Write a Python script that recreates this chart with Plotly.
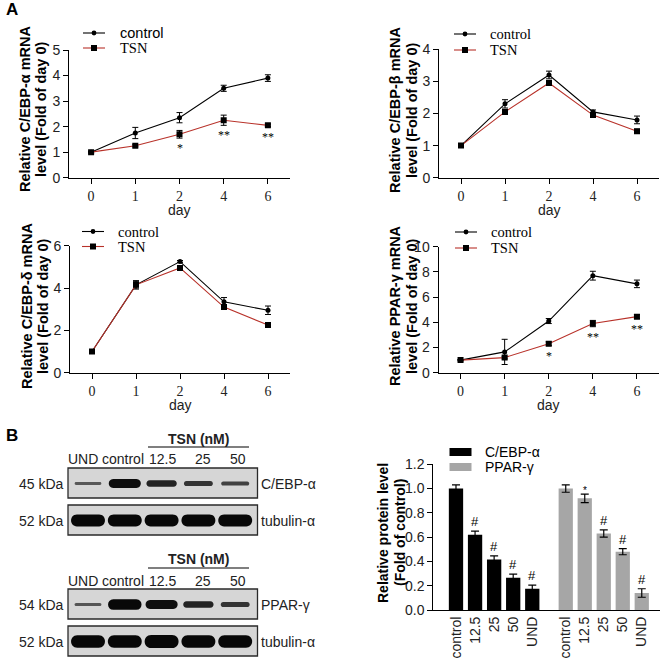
import plotly.graph_objects as go

# ---------------- data ----------------
days = ["0", "1", "2", "4", "6"]

cebpa_ctrl = [1.0, 1.75, 2.35, 3.5, 3.9]
cebpa_ctrl_err = [0.03, 0.22, 0.2, 0.12, 0.13]
cebpa_tsn = [1.0, 1.25, 1.7, 2.25, 2.05]
cebpa_tsn_err = [0.03, 0.04, 0.15, 0.2, 0.05]
cebpa_sig = ["", "", "*", "**", "**"]

cebpb_ctrl = [1.0, 2.3, 3.2, 2.05, 1.8]
cebpb_ctrl_err = [0.02, 0.13, 0.12, 0.06, 0.12]
cebpb_tsn = [1.0, 2.05, 2.95, 1.95, 1.45]
cebpb_tsn_err = [0.02, 0.06, 0.06, 0.05, 0.06]

cebpd_ctrl = [1.0, 4.15, 5.25, 3.35, 2.95]
cebpd_ctrl_err = [0.03, 0.2, 0.05, 0.2, 0.2]
cebpd_tsn = [1.0, 4.15, 4.95, 3.1, 2.25]
cebpd_tsn_err = [0.03, 0.15, 0.05, 0.1, 0.05]

pparg_ctrl = [1.0, 1.65, 4.1, 7.7, 7.05]
pparg_ctrl_err = [0.05, 1.0, 0.2, 0.35, 0.3]
pparg_tsn = [1.0, 1.2, 2.3, 3.9, 4.45]
pparg_tsn_err = [0.05, 0.1, 0.15, 0.25, 0.15]
pparg_sig = ["", "", "*", "**", "**"]

bar_lanes = ["control", "12.5", "25", "50", "UND"]
cebpa_protein = [1.0, 0.62, 0.415, 0.265, 0.175]
cebpa_protein_err = [0.03, 0.03, 0.03, 0.03, 0.03]
cebpa_protein_sig = ["", "#", "#", "#", "#"]
pparg_protein = [1.0, 0.92, 0.63, 0.48, 0.14]
pparg_protein_err = [0.03, 0.035, 0.03, 0.025, 0.035]
pparg_protein_sig = ["", "*", "#", "#", "#"]

blot_lanes = ["UND", "control", "12.5", "25", "50"]
blot_cebpa = [0.3, 0.9, 0.7, 0.55, 0.45]
blot_tub1 = [1.15, 1.15, 1.15, 1.15, 1.15]
blot_pparg = [0.32, 1.05, 0.9, 0.7, 0.55]
blot_tub2 = [1.2, 1.2, 1.25, 1.2, 1.2]

# ---------------- helpers ----------------
W = H = 660
SANS = "Liberation Sans"
SERIF = "Liberation Serif"
RED = "#b8322a"
TXT = "#222222"


def fx(p):
    return p / W


def fy(p):
    return 1 - p / H


fig = go.Figure()
shapes = []
annos = []


def ptext(x, y, text, size=14, family=SANS, bold=False, angle=0, xanchor="center",
          color=TXT):
    annos.append(dict(xref="paper", yref="paper", x=fx(x), y=fy(y), text=text,
                      textangle=angle, showarrow=False,
                      font=dict(family=family, size=size, color=color,
                                weight="bold" if bold else "normal"),
                      xanchor=xanchor, yanchor="middle"))


panels = [
    dict(ax="", ctrl=cebpa_ctrl, ce=cebpa_ctrl_err, tsn=cebpa_tsn, te=cebpa_tsn_err, sig=cebpa_sig,
         xd=(69, 290), yd=(177.7, 50), yr=5, dt=1,
         t1="Relative C/EBP-α mRNA", t2="level (Fold of day 0)", tx=(25, 41), ty=109,
         leg=(83, 105, 33, 48, 118), ctrl_font=SANS, day_y=210),
    dict(ax="2", ctrl=cebpb_ctrl, ce=cebpb_ctrl_err, tsn=cebpb_tsn, te=cebpb_tsn_err, sig=None,
         xd=(439, 659), yd=(177.7, 49.3), yr=4, dt=1,
         t1="Relative C/EBP-β mRNA", t2="level (Fold of day 0)", tx=(395, 412), ty=110,
         leg=(454, 476, 34, 50, 488), ctrl_font=SERIF, day_y=210),
    dict(ax="3", ctrl=cebpd_ctrl, ce=cebpd_ctrl_err, tsn=cebpd_tsn, te=cebpd_tsn_err, sig=None,
         xd=(70, 290), yd=(372.7, 245.7), yr=6, dt=2,
         t1="Relative C/EBP-δ mRNA", t2="level (Fold of day 0)", tx=(27, 43), ty=306,
         leg=(82, 104, 231.5, 246.5, 116), ctrl_font=SERIF, day_y=405),
    dict(ax="4", ctrl=pparg_ctrl, ce=pparg_ctrl_err, tsn=pparg_tsn, te=pparg_tsn_err, sig=pparg_sig,
         xd=(438.5, 659), yd=(372.7, 246.7), yr=10, dt=2,
         t1="Relative PPAR-γ mRNA", t2="level (Fold of day 0)", tx=(395, 412), ty=306,
         leg=(455, 477, 232, 248, 489), ctrl_font=SERIF, day_y=405),
]

layout_axes = {}
for p in panels:
    a = p["ax"]
    xa, ya = "x" + a, "y" + a
    fig.add_trace(go.Scatter(
        x=days, y=p["ctrl"], xaxis=xa, yaxis=ya, mode="lines+markers",
        line=dict(color="black", width=1.1),
        marker=dict(symbol="circle", size=5, color="black"),
        error_y=dict(type="data", array=p["ce"], color="black", thickness=1, width=3),
        showlegend=False))
    fig.add_trace(go.Scatter(
        x=days, y=p["tsn"], xaxis=xa, yaxis=ya, mode="lines+markers",
        line=dict(color=RED, width=1.1),
        marker=dict(symbol="square", size=6, color="black"),
        error_y=dict(type="data", array=p["te"], color="black", thickness=1, width=3),
        showlegend=False))
    layout_axes["xaxis" + a] = dict(
        domain=[fx(p["xd"][0]), fx(p["xd"][1])], anchor=ya, type="category",
        range=[-0.5, 4.5], showline=True, linecolor="black", linewidth=1,
        ticks="outside", ticklen=5, tickcolor="black", showgrid=False, zeroline=False,
        automargin=False, tickfont=dict(family=SERIF, size=14, color=TXT))
    layout_axes["yaxis" + a] = dict(
        domain=[fy(p["yd"][0]), fy(p["yd"][1])], anchor=xa,
        range=[0, p["yr"]], dtick=p["dt"], showline=True, linecolor="black", linewidth=1,
        ticks="outside", ticklen=5, tickcolor="black", showgrid=False, zeroline=False,
        automargin=False, tickfont=dict(family=SANS, size=14, color=TXT))
    # y title (two lines)
    ptext(p["tx"][0], p["ty"], p["t1"], size=14.5, bold=True, angle=-90, color="black")
    ptext(p["tx"][1], p["ty"], p["t2"], size=14.5, bold=True, angle=-90, color="black")
    # x title
    ptext((p["xd"][0] + p["xd"][1]) / 2, p["day_y"], "day", size=14)
    # significance marks (by category index)
    if p["sig"]:
        for i, (v, e, s) in enumerate(zip(p["tsn"], p["te"], p["sig"])):
            if s:
                annos.append(dict(xref=xa, yref=ya, x=i, y=v - e, text=s, showarrow=False,
                                  font=dict(family=SERIF, size=12, color="black"),
                                  xanchor="center", yanchor="top", yshift=-1))
    # legend (manual)
    lx0, lx1, yc, yt, tx = p["leg"]
    for yy, col, sym, name, fnt in [(yc, "black", "circle", "control", p["ctrl_font"]),
                                    (yt, RED, "square", "TSN", SERIF)]:
        shapes.append(dict(type="line", xref="paper", yref="paper", x0=fx(lx0), x1=fx(lx1),
                           y0=fy(yy), y1=fy(yy), line=dict(color=col, width=1.1)))
        cx = (lx0 + lx1) / 2
        r = 2.4 if sym == "circle" else 3
        shapes.append(dict(type="circle" if sym == "circle" else "rect", xref="paper", yref="paper",
                           x0=fx(cx - r), x1=fx(cx + r), y0=fy(yy + r), y1=fy(yy - r),
                           fillcolor="black", line=dict(width=0)))
        ptext(tx, yy, name, size=14.5, family=fnt, xanchor="left", color="black")

# ---------------- bar chart ----------------
fig.add_trace(go.Bar(x=bar_lanes, y=cebpa_protein, xaxis="x5", yaxis="y5", width=0.75,
                     marker=dict(color="black", line=dict(width=0)),
                     error_y=dict(type="data", array=cebpa_protein_err, color="black",
                                  thickness=1.2, width=4), showlegend=False))
fig.add_trace(go.Bar(x=bar_lanes, y=pparg_protein, xaxis="x6", yaxis="y5", width=0.75,
                     marker=dict(color="#a6a6a6", line=dict(width=0)),
                     error_y=dict(type="data", array=pparg_protein_err, color="black",
                                  thickness=1.2, width=4), showlegend=False))
bar_common = dict(type="category", showline=True, linecolor="black", linewidth=1,
                  ticks="", showgrid=False, zeroline=False, tickangle=-90, automargin=False,
                  tickfont=dict(family=SANS, size=14, color=TXT))
layout_axes["xaxis5"] = dict(domain=[fx(433.3), fx(541.8)], anchor="y5",
                             range=[-1.19, 4.5], **bar_common)
layout_axes["xaxis6"] = dict(domain=[fx(541.8), fx(660)], anchor="y5",
                             range=[-1.26, 4.96], **bar_common)
layout_axes["yaxis5"] = dict(domain=[fy(610), fy(464.3)], anchor="x5", range=[0, 1.2],
                             dtick=0.2, tickformat=".1f", showline=True, linecolor="black",
                             linewidth=1, ticks="outside", ticklen=5, tickcolor="black",
                             showgrid=False, zeroline=False, automargin=False,
                             tickfont=dict(family=SANS, size=14, color=TXT))
for xa, vals, errs, sigs in [("x5", cebpa_protein, cebpa_protein_err, cebpa_protein_sig),
                             ("x6", pparg_protein, pparg_protein_err, pparg_protein_sig)]:
    for i, (v, e, s) in enumerate(zip(vals, errs, sigs)):
        if s:
            annos.append(dict(xref=xa, yref="y5", x=i, y=v + e, text=s, showarrow=False,
                              font=dict(family=SANS, size=13 if s == "#" else 10, color="black"),
                              xanchor="center", yanchor="bottom",
                              yshift=0 if s == "#" else -4))
ptext(383, 533, "Relative protein level", size=14, bold=True, angle=-90, color="black")
ptext(400, 533, "(Fold of control)", size=14, bold=True, angle=-90, color="black")
for (y0, y1, col, name) in [(448, 456, "black", "C/EBP-α"), (463, 471, "#a6a6a6", "PPAR-γ")]:
    shapes.append(dict(type="rect", xref="paper", yref="paper", x0=fx(449.5), x1=fx(471.5),
                       y0=fy(y1), y1=fy(y0), fillcolor=col, line=dict(width=0)))
    ptext(483, (y0 + y1) / 2, name, size=14, xanchor="left", color="black")

# ---------------- western blots ----------------
lane_x0, lane_dx = 88, 36.8


def band_path(cx, cy, w, h):
    x0, x1 = cx - w / 2, cx + w / 2
    a = min(h / 2, w / 4)
    k = a / 3
    yt, yb = cy - h / 2, cy + h / 2
    pts = [
        f"M {fx(x0 + a)},{fy(yt)}",
        f"L {fx(x1 - a)},{fy(yt)}",
        f"C {fx(x1 + k)},{fy(yt)} {fx(x1 + k)},{fy(yb)} {fx(x1 - a)},{fy(yb)}",
        f"L {fx(x0 + a)},{fy(yb)}",
        f"C {fx(x0 - k)},{fy(yb)} {fx(x0 - k)},{fy(yt)} {fx(x0 + a)},{fy(yt)}",
        "Z",
    ]
    return " ".join(pts)


def gray_hex(v):
    g = int(max(8, 190 - 185 * min(v, 1.0) ** 0.5))
    return f"#{g:02x}{g:02x}{g:02x}"


blots = [
    (468, 498, blot_cebpa, "45 kDa", "C/EBP-α"),
    (505, 535, blot_tub1, "52 kDa", "tubulin-α"),
    (589, 619, blot_pparg, "54 kDa", "PPAR-γ"),
    (626, 656, blot_tub2, "52 kDa", "tubulin-α"),
]
for (y0, y1, vals, kda, prot) in blots:
    shapes.append(dict(type="rect", xref="paper", yref="paper", x0=fx(68), x1=fx(257.5),
                       y0=fy(y1), y1=fy(y0), fillcolor="#d6d6d6",
                       line=dict(color="#2a2a2a", width=1.3)))
    cy = (y0 + y1) / 2 + 0.5
    for i, v in enumerate(vals):
        cx = lane_x0 + i * lane_dx
        w = 24 + 9 * min(v, 1.1)
        h = 1 + 9 * v ** 1.3
        shapes.append(dict(type="path", xref="paper", yref="paper",
                           path=band_path(cx, cy, w, h), fillcolor=gray_hex(v),
                           line=dict(width=0)))
    ptext(66, cy, kda, size=14, xanchor="right")
    ptext(259, cy, prot, size=14, xanchor="left")

lane_label_x = [83, 123, 162, 203, 238]
for (ty, ly, laney) in [(439, 447, 459), (559, 568, 581)]:
    ptext(198, ty, "TSN (nM)", size=14, bold=True)
    shapes.append(dict(type="line", xref="paper", yref="paper", x0=fx(148), x1=fx(249),
                       y0=fy(ly), y1=fy(ly), line=dict(color="#555555", width=1.5)))
    for lab, lxp in zip(blot_lanes, lane_label_x):
        ptext(lxp, laney, lab, size=14)

# panel letters
ptext(4, 10, "A", size=17, bold=True, xanchor="left", color="black")
ptext(4, 435, "B", size=17, bold=True, xanchor="left", color="black")

fig.update_layout(
    width=W, height=H, margin=dict(l=0, r=0, t=0, b=0, autoexpand=False),
    paper_bgcolor="white", plot_bgcolor="white",
    shapes=shapes, annotations=annos, showlegend=False, bargap=0.25,
    **layout_axes)

fig.write_html("out.html", config={"displayModeBar": False},
               post_script="document.body.style.margin='0px';"
                           "document.body.style.overflow='hidden';")
